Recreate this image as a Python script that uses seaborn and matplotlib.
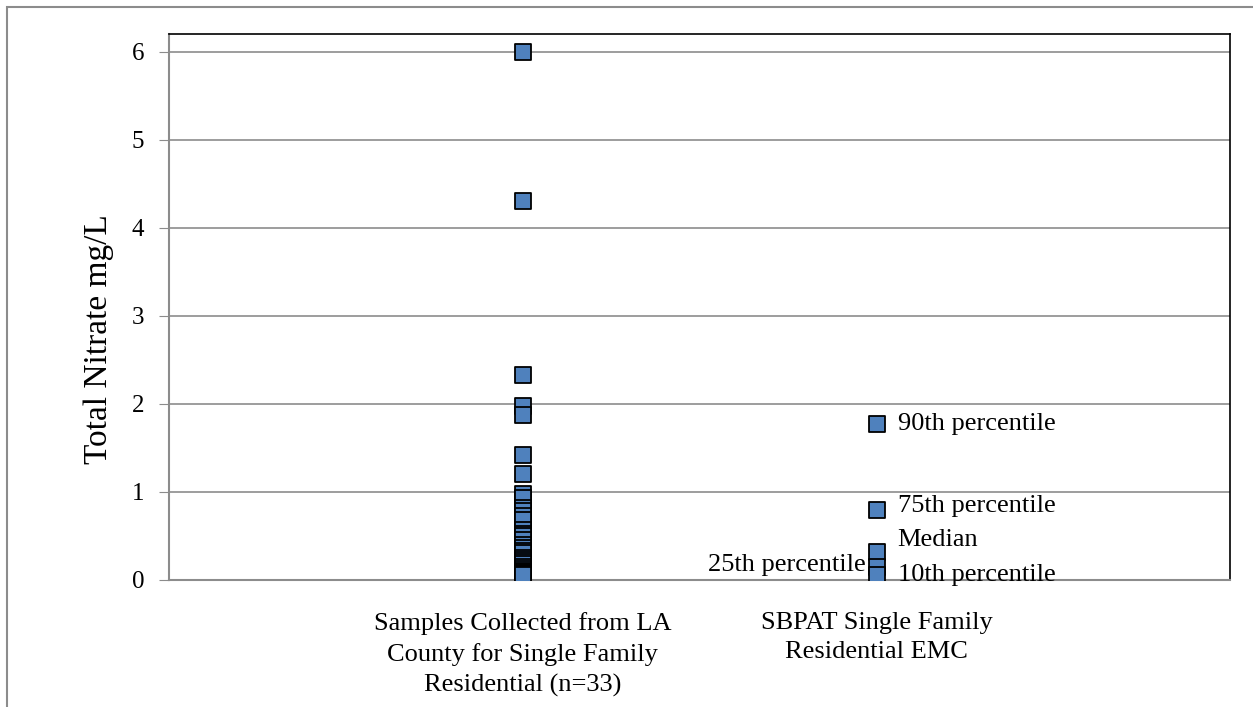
import numpy as np
import pandas as pd
import seaborn as sns
import matplotlib.pyplot as plt
from matplotlib.patches import Rectangle

# categorias
categorias = ["Samples Collected from LA\nCounty for Single Family\nResidential (n=33)",
              "SBPAT Single Family\nResidential EMC"]

# amostras LA County (n=33)
amostras = [6.0, 4.3, 2.33, 1.97, 1.87, 1.42, 1.2, 0.97, 0.93, 0.82, 0.78,
            0.72, 0.68, 0.56, 0.52, 0.5, 0.45, 0.4, 0.36, 0.33, 0.3, 0.25,
            0.22, 0.2, 0.18, 0.15, 0.12, 0.1, 0.09, 0.08, 0.07, 0.06, 0.05]

# percentis SBPAT
percentis_nomes = ["90th percentile", "75th percentile", "Median",
                   "25th percentile", "10th percentile"]
percentis_valores = [1.77, 0.79, 0.32, 0.15, 0.05]

dados = pd.DataFrame({
    "grupo": [categorias[0]] * len(amostras) + [categorias[1]] * len(percentis_valores),
    "nitrato": amostras + percentis_valores,
})

sns.set_style("white")
plt.rcParams["font.family"] = ["Liberation Serif", "DejaVu Serif"]
plt.rcParams["text.color"] = "black"
plt.rcParams["axes.labelcolor"] = "black"
plt.rcParams["xtick.color"] = "black"
plt.rcParams["ytick.color"] = "black"

fig, ax = plt.subplots(figsize=(12.53, 7.07), dpi=100)
fig.subplots_adjust(left=0.135, right=0.982, top=0.952, bottom=0.18)

sns.stripplot(data=dados, x="grupo", y="nitrato", order=categorias, jitter=False,
              marker="s", size=11, color="#4F81BD", edgecolor="black",
              linewidth=1.3, ax=ax, zorder=3)

ax.set_xlim(-1, 2)
ax.set_ylim(0, 6.2)
ax.set_yticks(range(0, 7))
ax.yaxis.grid(True, color="#8c8c8c", linewidth=1.2)
ax.set_axisbelow(True)
ax.tick_params(axis="y", labelsize=18, length=7, color="#8c8c8c", direction="out", left=True, pad=11)
ax.tick_params(axis="x", labelsize=19, length=0, pad=23)
for lab in ax.get_xticklabels():
    lab.set_multialignment("center")
    lab.set_linespacing(1.45)

ax.set_xlabel("")
ax.set_ylabel("Total Nitrate mg/L", fontsize=24)
ax.yaxis.set_label_coords(-0.052, 0.44)

for lado in ["top", "right"]:
    ax.spines[lado].set_color("black")
    ax.spines[lado].set_linewidth(1.2)
for lado in ["left", "bottom"]:
    ax.spines[lado].set_color("#8c8c8c")
    ax.spines[lado].set_linewidth(1.5)

# rótulos dos percentis
deslocamentos = {
    "90th percentile": (15, 0, "left"),
    "75th percentile": (15, 3, "left"),
    "Median": (15, 8, "left"),
    "25th percentile": (-8, 1, "right"),
    "10th percentile": (15, 0, "left"),
}
for nome, valor in zip(percentis_nomes, percentis_valores):
    dx, dy, ha = deslocamentos[nome]
    ax.annotate(nome, (1, valor), xytext=(dx, dy), textcoords="offset points",
                ha=ha, va="center", fontsize=19)

# borda externa
fig.patches.append(Rectangle((7 / 1253, -0.01), 1.02, 1 - 7 / 707 + 0.01,
                             transform=fig.transFigure, fill=False,
                             edgecolor="#8c8c8c", linewidth=1.5))

fig.savefig("out.png", dpi=100)
